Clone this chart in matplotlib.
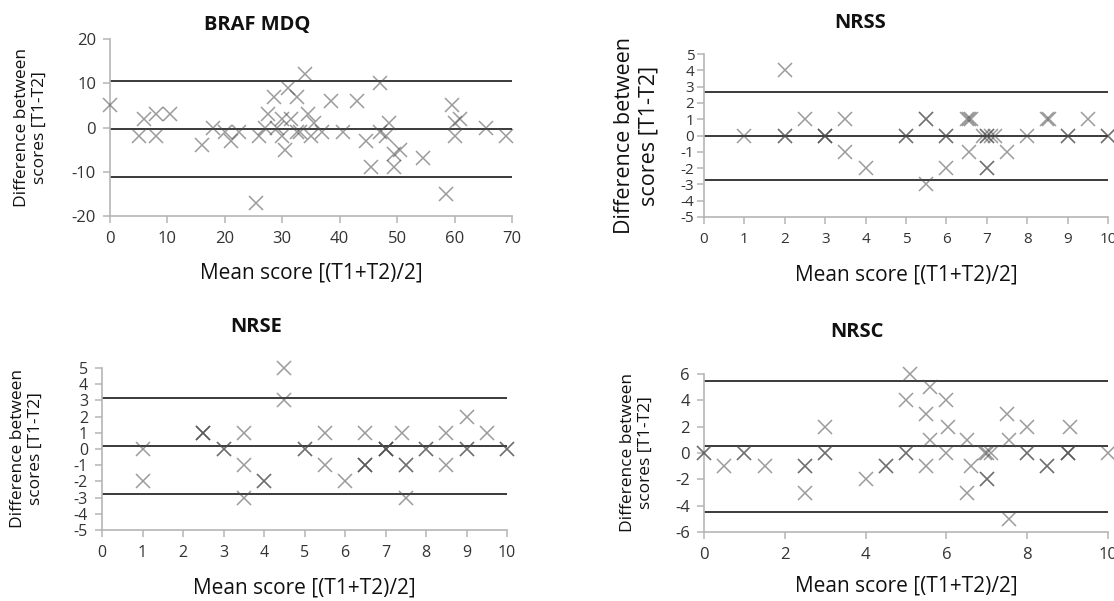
"""Bland-Altman style test-retest plots (BRAF MDQ, NRSS, NRSE, NRSC)."""

import matplotlib

matplotlib.use("Agg")
import matplotlib.pyplot as plt

plt.rcParams["font.family"] = ["Open Sans", "DejaVu Sans"]
plt.rcParams["axes.unicode_minus"] = False

# --- data (duplicates = overlapping, darker marks) ---
BRAF_X = [0, 5, 6, 8, 8, 10.5, 16, 18, 20, 21, 22.5, 25.5, 26, 27, 27.5, 28.5,
          29, 30, 30, 30.5, 31, 31.5, 32.5, 32.5, 33, 34, 34.5, 35, 35.5, 37,
          38.5, 40.5, 43, 44.5, 45.5, 47, 47, 48, 48.5, 49.5, 49.5, 50.5,
          54.5, 58.5, 59.5, 60, 60, 61, 65.5, 69]
BRAF_Y = [5, -2, 2, 3, -2, 3, -4, 0, -1, -3, -1, -17, -2, 0, 3, 7,
          0, -2, 2, -5, 9, 2, 7, -1, -1, 12, 3, -2, 1, -1,
          6, -1, 6, -3, -9, 10, -1, -2, 1, -9, -6, -5,
          -7, -15, 5, 1, -2, 2, 0, -2]
BRAF_LINES = [10.5, -0.3, -11.1]

NRSS_X = [1, 2, 2, 2, 2.5, 3, 3, 3, 3.5, 3.5, 4, 5, 5, 5.5, 5.5, 5.5, 6, 6,
          6, 6.5, 6.55, 6.6, 6.55, 6.9, 7, 7, 7.1, 7.2, 7, 7, 7.5, 8, 8.5,
          8.55, 9, 9, 9.5, 10, 10]
NRSS_Y = [0, 4, 0, 0, 1, 0, 0, 0, 1, -1, -2, 0, 0, 1, 1, -3, 0, 0,
          -2, 1, 1, 1, -1, 0, 0, 0, 0, 0, -2, -2, -1, 0, 1,
          1, 0, 0, 1, 0, 0]
NRSS_LINES = [2.64, -0.05, -2.76]

NRSE_X = [1, 1, 2.5, 2.5, 2.5, 3, 3, 3.5, 3.5, 3.5, 4, 4, 4.5, 4.5, 5, 5,
          5.5, 5.5, 6, 6.5, 6.5, 6.5, 6.5, 7, 7, 7, 7, 7.4, 7.5, 7.5, 7.5,
          8, 8, 8.5, 8.5, 9, 9, 9, 9.5, 10, 10]
NRSE_Y = [0, -2, 1, 1, 1, 0, 0, 1, -1, -3, -2, -2, 5, 3, 0, 0,
          1, -1, -2, 1, -1, -1, -1, 0, 0, 0, 0, 1, -1, -1, -3,
          0, 0, 1, -1, 0, 0, 2, 1, 0, 0]
NRSE_LINES = [3.17, 0.2, -2.75]

NRSC_X = [0, 0, 0.5, 1, 1, 1.5, 2.5, 2.5, 2.5, 3, 3, 3, 4, 4.5, 4.5, 5,
          5, 5, 5.1, 5.5, 5.5, 5.6, 5.6, 6, 6, 6.05, 6.5, 6.6, 6.5, 6.95,
          7.1, 7, 7, 7, 7.5, 7.55, 7.55, 8, 8, 8, 8.5, 8.5, 9.05, 9, 9, 9,
          10]
NRSC_Y = [0, 0, -1, 0, 0, -1, -1, -1, -3, 2, 0, 0, -2, -1, -1, 4,
          0, 0, 6, 3, -1, 5, 1, 4, 0, 2, 1, -1, -3, 0,
          0, 0, -2, -2, 3, 1, -5, 2, 0, 0, -1, -1, 2, 0, 0, 0,
          0]
NRSC_LINES = [5.5, 0.53, -4.5]

PANELS = [
    # title, x, y, lines, xlim, xticks, ylim, yticks
    ("BRAF MDQ", BRAF_X, BRAF_Y, BRAF_LINES, 70, range(0, 71, 10), 20, range(-20, 21, 10)),
    ("NRSS", NRSS_X, NRSS_Y, NRSS_LINES, 10, range(0, 11), 5, range(-5, 6)),
    ("NRSE", NRSE_X, NRSE_Y, NRSE_LINES, 10, range(0, 11), 5, range(-5, 6)),
    ("NRSC", NRSC_X, NRSC_Y, NRSC_LINES, 10, range(0, 11, 2), 6, range(-6, 7, 2)),
]

# axes boxes in pixels: left, top, right, bottom
BOXES = [(110, 39, 512, 216), (704, 54, 1108, 217),
         (102, 368, 507, 530), (704, 374, 1108, 532)]
TITLE_POS = [(257, 25), (860, 23), (256, 327), (857, 332)]
XLABEL_Y = [273, 275, 588, 586]
YLABEL_SIZE = [12.5, 15.5, 12.5, 12.5]
YLABEL_X = [31, 637, 27, 637]
TICK_SIZE = [12, 11, 11.5, 12]

W, H = 1114, 601
AXIS_GREY = "#b5b5b5"
TEXT = "#333333"

fig = plt.figure(figsize=(W / 100, H / 100), dpi=100)

for i, (title, xs, ys, lines, xmax, xticks, ymax, yticks) in enumerate(PANELS):
    l, t, r, b = BOXES[i]
    ax = fig.add_axes([l / W, 1 - b / H, (r - l) / W, (b - t) / H])
    ax.set_xlim(0, xmax)
    ax.set_ylim(-ymax, ymax)
    for s in ("top", "right"):
        ax.spines[s].set_visible(False)
    for s in ("left", "bottom"):
        ax.spines[s].set_color(AXIS_GREY)
        ax.spines[s].set_linewidth(1.2)
    ax.set_xticks(list(xticks))
    ax.set_yticks(list(yticks))
    ax.tick_params(colors=AXIS_GREY, labelcolor=TEXT, length=5, width=1.1,
                   labelsize=TICK_SIZE[i])
    ax.tick_params(axis="x", pad=6)
    ax.tick_params(axis="y", pad=5 if i != 1 else 2)

    for v in lines:
        ax.hlines(v, 0, xmax, color="#3a3a3a", lw=1.4, zorder=2)
    ax.plot(xs, ys, ls="none", marker="x", ms=10.5, mew=1.1,
            color="#4a4a4a", alpha=0.55, clip_on=False, zorder=3)

    fig.text(TITLE_POS[i][0] / W, 1 - TITLE_POS[i][1] / H, title,
             ha="center", va="center", fontsize=14.5, fontweight="bold",
             color="#111111")
    fig.text((l + r) / 2 / W, 1 - XLABEL_Y[i] / H, "Mean score [(T1+T2)/2]",
             ha="center", va="center", fontsize=15, color="#111111")
    fig.text(YLABEL_X[i] / W, 1 - (t + b) / 2 / H,
             "Difference between\nscores [T1-T2]", ha="center", va="center",
             rotation=90, fontsize=YLABEL_SIZE[i], color="#111111",
             linespacing=1.2)

fig.savefig("out.png", dpi=100)
